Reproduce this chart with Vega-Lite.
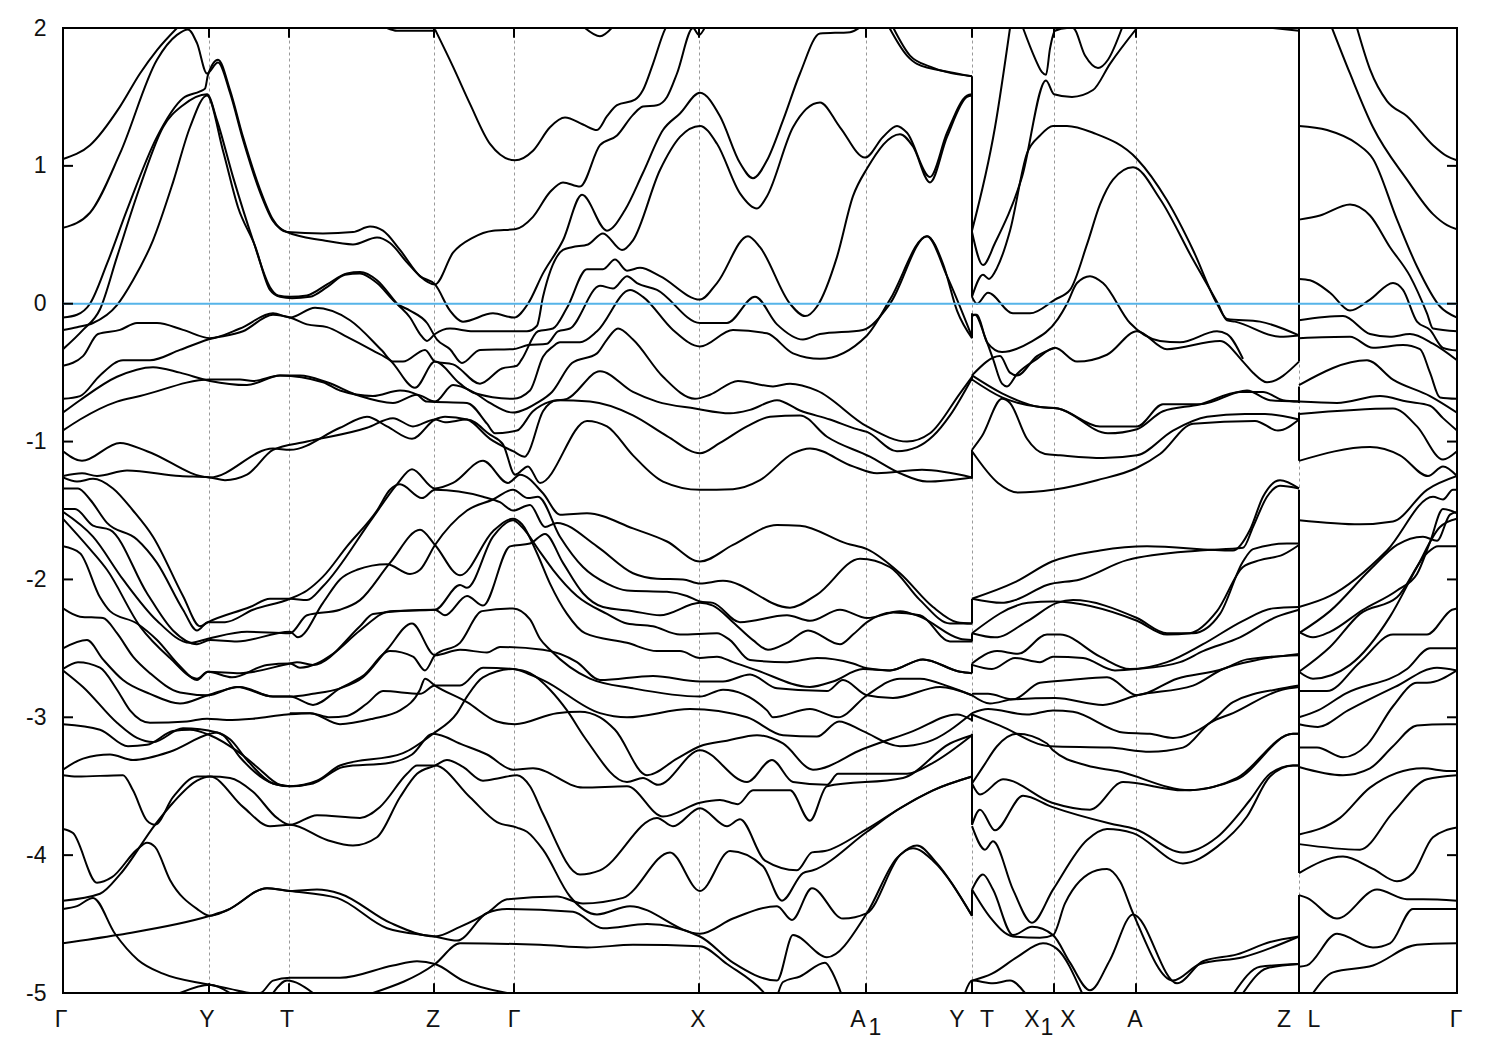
{"$schema":"https://vega.github.io/schema/vega-lite/v6.json","width":1394,"height":965,"autosize":"none","padding":{"left":63,"top":28,"right":43,"bottom":57},"background":"white","config":{"view":{"stroke":"#000","strokeWidth":2}},
"data":{"values":[
{"b":1,"k":63,"e":1.05},{"b":1,"k":90,"e":1.15},{"b":1,"k":120,"e":1.43},{"b":1,"k":140,"e":1.67},{"b":1,"k":157,"e":1.84},{"b":1,"k":177,"e":2.0},
{"b":2,"k":63,"e":0.55},{"b":2,"k":90,"e":0.66},{"b":2,"k":120,"e":1.09},{"b":2,"k":157,"e":1.77},{"b":2,"k":177,"e":1.95},{"b":2,"k":188,"e":1.99},{"b":2,"k":197,"e":1.89},{"b":2,"k":207,"e":1.67},{"b":2,"k":218,"e":1.75},{"b":2,"k":230,"e":1.53},{"b":2,"k":243,"e":1.19},{"b":2,"k":260,"e":0.81},{"b":2,"k":273,"e":0.6},{"b":2,"k":287,"e":0.52},{"b":2,"k":323,"e":0.46},{"b":2,"k":353,"e":0.43},{"b":2,"k":377,"e":0.48},{"b":2,"k":390,"e":0.44},{"b":2,"k":407,"e":0.3},{"b":2,"k":420,"e":0.2},{"b":2,"k":435,"e":0.14},{"b":2,"k":450,"e":-0.05},{"b":2,"k":463,"e":-0.13},{"b":2,"k":493,"e":-0.07},{"b":2,"k":514,"e":-0.1},{"b":2,"k":528,"e":0},{"b":2,"k":543,"e":0.22},{"b":2,"k":563,"e":0.46},{"b":2,"k":582,"e":0.79},{"b":2,"k":607,"e":0.53},{"b":2,"k":625,"e":0.68},{"b":2,"k":643,"e":0.95},{"b":2,"k":663,"e":1.26},{"b":2,"k":680,"e":1.38},{"b":2,"k":700,"e":1.53},{"b":2,"k":720,"e":1.36},{"b":2,"k":740,"e":1.02},{"b":2,"k":753,"e":0.91},{"b":2,"k":767,"e":1.04},{"b":2,"k":783,"e":1.33},{"b":2,"k":800,"e":1.67},{"b":2,"k":820,"e":1.96},{"b":2,"k":850,"e":1.97},{"b":2,"k":863,"e":2.02},
{"b":3,"k":63,"e":-0.1},{"b":3,"k":77,"e":-0.08},{"b":3,"k":90,"e":0},{"b":3,"k":107,"e":0.29},{"b":3,"k":127,"e":0.68},{"b":3,"k":157,"e":1.21},{"b":3,"k":183,"e":1.49},{"b":3,"k":200,"e":1.54},{"b":3,"k":205,"e":1.56},{"b":3,"k":208,"e":1.66},{"b":3,"k":218,"e":1.77},{"b":3,"k":230,"e":1.55},{"b":3,"k":243,"e":1.21},{"b":3,"k":260,"e":0.83},{"b":3,"k":273,"e":0.61},{"b":3,"k":287,"e":0.52},{"b":3,"k":323,"e":0.51},{"b":3,"k":353,"e":0.52},{"b":3,"k":370,"e":0.56},{"b":3,"k":383,"e":0.53},{"b":3,"k":400,"e":0.39},{"b":3,"k":420,"e":0.2},{"b":3,"k":435,"e":0.14},{"b":3,"k":453,"e":0.37},{"b":3,"k":473,"e":0.48},{"b":3,"k":493,"e":0.53},{"b":3,"k":515,"e":0.54},{"b":3,"k":533,"e":0.63},{"b":3,"k":550,"e":0.81},{"b":3,"k":563,"e":0.88},{"b":3,"k":580,"e":0.85},{"b":3,"k":600,"e":1.15},{"b":3,"k":617,"e":1.22},{"b":3,"k":633,"e":1.37},{"b":3,"k":643,"e":1.43},{"b":3,"k":657,"e":1.44},{"b":3,"k":667,"e":1.5},{"b":3,"k":677,"e":1.67},{"b":3,"k":693,"e":2.0},{"b":3,"k":699,"e":1.95},{"b":3,"k":706,"e":2.02},
{"b":4,"k":63,"e":-0.33},{"b":4,"k":83,"e":-0.19},{"b":4,"k":100,"e":-0.04},{"b":4,"k":117,"e":0.34},{"b":4,"k":140,"e":0.85},{"b":4,"k":163,"e":1.28},{"b":4,"k":183,"e":1.44},{"b":4,"k":207,"e":1.52},{"b":4,"k":217,"e":1.33},{"b":4,"k":233,"e":0.92},{"b":4,"k":253,"e":0.46},{"b":4,"k":270,"e":0.12},{"b":4,"k":278,"e":0.06},{"b":4,"k":290,"e":0.05},{"b":4,"k":307,"e":0.06},{"b":4,"k":327,"e":0.14},{"b":4,"k":347,"e":0.22},{"b":4,"k":360,"e":0.23},{"b":4,"k":377,"e":0.17},{"b":4,"k":397,"e":0},{"b":4,"k":410,"e":-0.1},{"b":4,"k":420,"e":-0.22},{"b":4,"k":427,"e":-0.27},{"b":4,"k":435,"e":-0.22},{"b":4,"k":450,"e":-0.18},{"b":4,"k":473,"e":-0.2},{"b":4,"k":527,"e":-0.2},{"b":4,"k":537,"e":-0.16},{"b":4,"k":543,"e":0.05},{"b":4,"k":563,"e":0.39},{"b":4,"k":572,"e":0.41},{"b":4,"k":588,"e":0.43},{"b":4,"k":603,"e":0.51},{"b":4,"k":622,"e":0.39},{"b":4,"k":633,"e":0.46},{"b":4,"k":660,"e":0.97},{"b":4,"k":680,"e":1.21},{"b":4,"k":700,"e":1.29},{"b":4,"k":717,"e":1.16},{"b":4,"k":740,"e":0.8},{"b":4,"k":757,"e":0.69},{"b":4,"k":767,"e":0.78},{"b":4,"k":793,"e":1.28},{"b":4,"k":820,"e":1.46},{"b":4,"k":840,"e":1.28},{"b":4,"k":865,"e":1.06},{"b":4,"k":883,"e":1.21},{"b":4,"k":897,"e":1.29},{"b":4,"k":907,"e":1.24},{"b":4,"k":930,"e":0.92},{"b":4,"k":947,"e":1.24},{"b":4,"k":967,"e":1.51},{"b":4,"k":972,"e":1.52},
{"b":5,"k":63,"e":-0.19},{"b":5,"k":77,"e":-0.17},{"b":5,"k":93,"e":-0.14},{"b":5,"k":117,"e":-0.01},{"b":5,"k":133,"e":0.17},{"b":5,"k":153,"e":0.46},{"b":5,"k":173,"e":0.88},{"b":5,"k":190,"e":1.28},{"b":5,"k":207,"e":1.51},{"b":5,"k":223,"e":1.11},{"b":5,"k":238,"e":0.7},{"b":5,"k":255,"e":0.42},{"b":5,"k":270,"e":0.1},{"b":5,"k":280,"e":0.05},{"b":5,"k":292,"e":0.04},{"b":5,"k":310,"e":0.05},{"b":5,"k":327,"e":0.12},{"b":5,"k":345,"e":0.21},{"b":5,"k":360,"e":0.22},{"b":5,"k":377,"e":0.15},{"b":5,"k":397,"e":0},{"b":5,"k":410,"e":-0.05},{"b":5,"k":427,"e":-0.14},{"b":5,"k":437,"e":-0.26},{"b":5,"k":450,"e":-0.33},{"b":5,"k":462,"e":-0.43},{"b":5,"k":480,"e":-0.335},{"b":5,"k":513,"e":-0.33},{"b":5,"k":528,"e":-0.3},{"b":5,"k":547,"e":-0.29},{"b":5,"k":558,"e":-0.2},{"b":5,"k":570,"e":-0.18},{"b":5,"k":600,"e":0.13},{"b":5,"k":613,"e":0.11},{"b":5,"k":627,"e":0.2},{"b":5,"k":637,"e":0.15},{"b":5,"k":657,"e":0.1},{"b":5,"k":700,"e":-0.14},{"b":5,"k":727,"e":-0.14},{"b":5,"k":755,"e":0.05},{"b":5,"k":777,"e":-0.15},{"b":5,"k":803,"e":-0.26},{"b":5,"k":820,"e":-0.22},{"b":5,"k":863,"e":-0.19},{"b":5,"k":890,"e":0},{"b":5,"k":927,"e":0.49},{"b":5,"k":943,"e":0.29},{"b":5,"k":957,"e":-0.05},{"b":5,"k":972,"e":-0.25},
{"b":6,"k":63,"e":-0.45},{"b":6,"k":83,"e":-0.38},{"b":6,"k":98,"e":-0.22},{"b":6,"k":120,"e":-0.19},{"b":6,"k":137,"e":-0.14},{"b":6,"k":157,"e":-0.14},{"b":6,"k":183,"e":-0.19},{"b":6,"k":210,"e":-0.25},{"b":6,"k":240,"e":-0.18},{"b":6,"k":273,"e":-0.07},{"b":6,"k":290,"e":-0.1},{"b":6,"k":315,"e":-0.03},{"b":6,"k":350,"e":-0.12},{"b":6,"k":382,"e":-0.34},{"b":6,"k":393,"e":-0.42},{"b":6,"k":403,"e":-0.42},{"b":6,"k":425,"e":-0.335},{"b":6,"k":435,"e":-0.42},{"b":6,"k":453,"e":-0.44},{"b":6,"k":480,"e":-0.58},{"b":6,"k":502,"e":-0.47},{"b":6,"k":517,"e":-0.45},{"b":6,"k":522,"e":-0.4},{"b":6,"k":538,"e":-0.2},{"b":6,"k":553,"e":-0.18},{"b":6,"k":567,"e":-0.03},{"b":6,"k":587,"e":0.25},{"b":6,"k":603,"e":0.25},{"b":6,"k":615,"e":0.32},{"b":6,"k":627,"e":0.24},{"b":6,"k":640,"e":0.26},{"b":6,"k":660,"e":0.2},{"b":6,"k":700,"e":0.03},{"b":6,"k":717,"e":0.15},{"b":6,"k":748,"e":0.49},{"b":6,"k":760,"e":0.41},{"b":6,"k":790,"e":0},{"b":6,"k":805,"e":-0.09},{"b":6,"k":817,"e":-0.02},{"b":6,"k":837,"e":0.34},{"b":6,"k":853,"e":0.78},{"b":6,"k":867,"e":0.98},{"b":6,"k":900,"e":1.23},{"b":6,"k":913,"e":1.14},{"b":6,"k":930,"e":0.88},{"b":6,"k":947,"e":1.21},{"b":6,"k":967,"e":1.5},{"b":6,"k":972,"e":1.51},
{"b":7,"k":63,"e":-0.69},{"b":7,"k":80,"e":-0.67},{"b":7,"k":100,"e":-0.52},{"b":7,"k":123,"e":-0.41},{"b":7,"k":150,"e":-0.41},{"b":7,"k":180,"e":-0.335},{"b":7,"k":208,"e":-0.26},{"b":7,"k":243,"e":-0.2},{"b":7,"k":273,"e":-0.08},{"b":7,"k":290,"e":-0.1},{"b":7,"k":307,"e":-0.15},{"b":7,"k":327,"e":-0.17},{"b":7,"k":347,"e":-0.24},{"b":7,"k":373,"e":-0.34},{"b":7,"k":390,"e":-0.41},{"b":7,"k":415,"e":-0.61},{"b":7,"k":435,"e":-0.42},{"b":7,"k":460,"e":-0.58},{"b":7,"k":475,"e":-0.65},{"b":7,"k":513,"e":-0.69},{"b":7,"k":530,"e":-0.63},{"b":7,"k":543,"e":-0.385},{"b":7,"k":553,"e":-0.31},{"b":7,"k":560,"e":-0.28},{"b":7,"k":580,"e":-0.28},{"b":7,"k":597,"e":-0.2},{"b":7,"k":630,"e":0.1},{"b":7,"k":643,"e":0.05},{"b":7,"k":673,"e":-0.19},{"b":7,"k":700,"e":-0.31},{"b":7,"k":733,"e":-0.19},{"b":7,"k":767,"e":-0.215},{"b":7,"k":793,"e":-0.36},{"b":7,"k":820,"e":-0.4},{"b":7,"k":867,"e":-0.23},{"b":7,"k":890,"e":0.03},{"b":7,"k":927,"e":0.49},{"b":7,"k":947,"e":0.2},{"b":7,"k":972,"e":-0.24},
{"b":8,"k":63,"e":-0.79},{"b":8,"k":80,"e":-0.7},{"b":8,"k":117,"e":-0.53},{"b":8,"k":153,"e":-0.46},{"b":8,"k":180,"e":-0.5},{"b":8,"k":210,"e":-0.56},{"b":8,"k":247,"e":-0.59},{"b":8,"k":280,"e":-0.52},{"b":8,"k":300,"e":-0.52},{"b":8,"k":327,"e":-0.57},{"b":8,"k":360,"e":-0.67},{"b":8,"k":393,"e":-0.72},{"b":8,"k":417,"e":-0.66},{"b":8,"k":435,"e":-0.71},{"b":8,"k":453,"e":-0.59},{"b":8,"k":473,"e":-0.64},{"b":8,"k":490,"e":-0.72},{"b":8,"k":513,"e":-0.79},{"b":8,"k":527,"e":-0.76},{"b":8,"k":537,"e":-0.72},{"b":8,"k":552,"e":-0.64},{"b":8,"k":572,"e":-0.43},{"b":8,"k":597,"e":-0.36},{"b":8,"k":607,"e":-0.26},{"b":8,"k":618,"e":-0.18},{"b":8,"k":633,"e":-0.26},{"b":8,"k":663,"e":-0.53},{"b":8,"k":695,"e":-0.69},{"b":8,"k":710,"e":-0.66},{"b":8,"k":738,"e":-0.56},{"b":8,"k":773,"e":-0.6},{"b":8,"k":790,"e":-0.58},{"b":8,"k":817,"e":-0.63},{"b":8,"k":867,"e":-0.89},{"b":8,"k":907,"e":-1.0},{"b":8,"k":930,"e":-0.94},{"b":8,"k":960,"e":-0.65},{"b":8,"k":972,"e":-0.53},
{"b":9,"k":63,"e":-0.92},{"b":9,"k":80,"e":-0.84},{"b":9,"k":117,"e":-0.71},{"b":9,"k":140,"e":-0.67},{"b":9,"k":210,"e":-0.55},{"b":9,"k":240,"e":-0.55},{"b":9,"k":253,"e":-0.56},{"b":9,"k":280,"e":-0.52},{"b":9,"k":323,"e":-0.57},{"b":9,"k":340,"e":-0.63},{"b":9,"k":373,"e":-0.67},{"b":9,"k":400,"e":-0.63},{"b":9,"k":417,"e":-0.66},{"b":9,"k":427,"e":-0.71},{"b":9,"k":467,"e":-0.72},{"b":9,"k":487,"e":-0.87},{"b":9,"k":495,"e":-0.94},{"b":9,"k":517,"e":-0.92},{"b":9,"k":533,"e":-0.78},{"b":9,"k":550,"e":-0.71},{"b":9,"k":567,"e":-0.69},{"b":9,"k":600,"e":-0.49},{"b":9,"k":633,"e":-0.64},{"b":9,"k":657,"e":-0.71},{"b":9,"k":695,"e":-0.76},{"b":9,"k":730,"e":-0.795},{"b":9,"k":750,"e":-0.77},{"b":9,"k":777,"e":-0.7},{"b":9,"k":800,"e":-0.775},{"b":9,"k":830,"e":-0.84},{"b":9,"k":857,"e":-0.91},{"b":9,"k":867,"e":-0.93},{"b":9,"k":897,"e":-1.07},{"b":9,"k":917,"e":-1.04},{"b":9,"k":933,"e":-0.96},{"b":9,"k":950,"e":-0.81},{"b":9,"k":972,"e":-0.54},
{"b":10,"k":63,"e":-1.07},{"b":10,"k":82,"e":-1.14},{"b":10,"k":120,"e":-1.01},{"b":10,"k":147,"e":-1.07},{"b":10,"k":210,"e":-1.26},{"b":10,"k":273,"e":-1.05},{"b":10,"k":290,"e":-1.06},{"b":10,"k":340,"e":-0.9},{"b":10,"k":367,"e":-0.82},{"b":10,"k":387,"e":-0.89},{"b":10,"k":412,"e":-0.98},{"b":10,"k":435,"e":-0.84},{"b":10,"k":445,"e":-0.82},{"b":10,"k":467,"e":-0.84},{"b":10,"k":490,"e":-0.98},{"b":10,"k":513,"e":-1.07},{"b":10,"k":525,"e":-1.11},{"b":10,"k":528,"e":-1.085},{"b":10,"k":543,"e":-0.78},{"b":10,"k":557,"e":-0.7},{"b":10,"k":590,"e":-0.71},{"b":10,"k":633,"e":-0.81},{"b":10,"k":667,"e":-0.96},{"b":10,"k":700,"e":-1.085},{"b":10,"k":720,"e":-1.01},{"b":10,"k":747,"e":-0.89},{"b":10,"k":770,"e":-0.82},{"b":10,"k":800,"e":-0.81},{"b":10,"k":827,"e":-0.965},{"b":10,"k":870,"e":-1.11},{"b":10,"k":900,"e":-1.23},{"b":10,"k":927,"e":-1.29},{"b":10,"k":972,"e":-1.26},
{"b":11,"k":63,"e":-1.25},{"b":11,"k":82,"e":-1.23},{"b":11,"k":97,"e":-1.25},{"b":11,"k":127,"e":-1.21},{"b":11,"k":180,"e":-1.25},{"b":11,"k":210,"e":-1.26},{"b":11,"k":225,"e":-1.28},{"b":11,"k":247,"e":-1.24},{"b":11,"k":273,"e":-1.06},{"b":11,"k":307,"e":-1.0},{"b":11,"k":367,"e":-0.9},{"b":11,"k":393,"e":-0.83},{"b":11,"k":413,"e":-0.89},{"b":11,"k":435,"e":-0.84},{"b":11,"k":445,"e":-0.86},{"b":11,"k":467,"e":-0.84},{"b":11,"k":490,"e":-0.95},{"b":11,"k":503,"e":-1.02},{"b":11,"k":515,"e":-1.24},{"b":11,"k":528,"e":-1.18},{"b":11,"k":540,"e":-1.3},{"b":11,"k":587,"e":-0.85},{"b":11,"k":607,"e":-0.89},{"b":11,"k":633,"e":-1.1},{"b":11,"k":663,"e":-1.29},{"b":11,"k":700,"e":-1.35},{"b":11,"k":733,"e":-1.345},{"b":11,"k":760,"e":-1.28},{"b":11,"k":793,"e":-1.085},{"b":11,"k":810,"e":-1.05},{"b":11,"k":853,"e":-1.18},{"b":11,"k":877,"e":-1.23},{"b":11,"k":922,"e":-1.205},{"b":11,"k":972,"e":-1.26},
{"b":12,"k":63,"e":-1.26},{"b":12,"k":77,"e":-1.29},{"b":12,"k":93,"e":-1.27},{"b":12,"k":113,"e":-1.34},{"b":12,"k":133,"e":-1.5},{"b":12,"k":153,"e":-1.69},{"b":12,"k":183,"e":-2.12},{"b":12,"k":200,"e":-2.34},{"b":12,"k":208,"e":-2.31},{"b":12,"k":250,"e":-2.2},{"b":12,"k":270,"e":-2.14},{"b":12,"k":290,"e":-2.14},{"b":12,"k":307,"e":-2.15},{"b":12,"k":323,"e":-2.05},{"b":12,"k":373,"e":-1.55},{"b":12,"k":397,"e":-1.31},{"b":12,"k":412,"e":-1.2},{"b":12,"k":435,"e":-1.34},{"b":12,"k":453,"e":-1.3},{"b":12,"k":483,"e":-1.14},{"b":12,"k":508,"e":-1.3},{"b":12,"k":520,"e":-1.24},{"b":12,"k":543,"e":-1.375},{"b":12,"k":560,"e":-1.53},{"b":12,"k":587,"e":-1.52},{"b":12,"k":633,"e":-1.63},{"b":12,"k":667,"e":-1.725},{"b":12,"k":700,"e":-1.87},{"b":12,"k":733,"e":-1.75},{"b":12,"k":777,"e":-1.605},{"b":12,"k":800,"e":-1.61},{"b":12,"k":847,"e":-1.74},{"b":12,"k":867,"e":-1.78},{"b":12,"k":900,"e":-1.955},{"b":12,"k":933,"e":-2.2},{"b":12,"k":957,"e":-2.31},{"b":12,"k":972,"e":-2.32},
{"b":13,"k":63,"e":-1.34},{"b":13,"k":78,"e":-1.34},{"b":13,"k":90,"e":-1.42},{"b":13,"k":107,"e":-1.59},{"b":13,"k":137,"e":-1.71},{"b":13,"k":157,"e":-1.88},{"b":13,"k":183,"e":-2.22},{"b":13,"k":197,"e":-2.37},{"b":13,"k":208,"e":-2.31},{"b":13,"k":225,"e":-2.31},{"b":13,"k":253,"e":-2.22},{"b":13,"k":290,"e":-2.14},{"b":13,"k":307,"e":-2.08},{"b":13,"k":323,"e":-1.98},{"b":13,"k":347,"e":-1.76},{"b":13,"k":377,"e":-1.5},{"b":13,"k":390,"e":-1.35},{"b":13,"k":400,"e":-1.31},{"b":13,"k":422,"e":-1.41},{"b":13,"k":435,"e":-1.35},{"b":13,"k":483,"e":-1.4},{"b":13,"k":500,"e":-1.44},{"b":13,"k":513,"e":-1.5},{"b":13,"k":530,"e":-1.46},{"b":13,"k":545,"e":-1.62},{"b":13,"k":557,"e":-1.59},{"b":13,"k":597,"e":-1.76},{"b":13,"k":633,"e":-1.955},{"b":13,"k":657,"e":-1.995},{"b":13,"k":683,"e":-2.0},{"b":13,"k":700,"e":-2.03},{"b":13,"k":723,"e":-2.01},{"b":13,"k":790,"e":-2.205},{"b":13,"k":817,"e":-2.11},{"b":13,"k":860,"e":-1.85},{"b":13,"k":890,"e":-1.91},{"b":13,"k":920,"e":-2.15},{"b":13,"k":950,"e":-2.32},{"b":13,"k":972,"e":-2.32},
{"b":14,"k":63,"e":-1.49},{"b":14,"k":75,"e":-1.49},{"b":14,"k":93,"e":-1.61},{"b":14,"k":110,"e":-1.64},{"b":14,"k":147,"e":-2.1},{"b":14,"k":173,"e":-2.37},{"b":14,"k":197,"e":-2.47},{"b":14,"k":210,"e":-2.44},{"b":14,"k":237,"e":-2.45},{"b":14,"k":290,"e":-2.38},{"b":14,"k":298,"e":-2.42},{"b":14,"k":323,"e":-2.17},{"b":14,"k":340,"e":-2.0},{"b":14,"k":357,"e":-1.93},{"b":14,"k":387,"e":-1.89},{"b":14,"k":410,"e":-1.96},{"b":14,"k":420,"e":-1.93},{"b":14,"k":435,"e":-1.75},{"b":14,"k":467,"e":-1.5},{"b":14,"k":493,"e":-1.42},{"b":14,"k":513,"e":-1.35},{"b":14,"k":528,"e":-1.41},{"b":14,"k":538,"e":-1.4},{"b":14,"k":560,"e":-1.69},{"b":14,"k":583,"e":-1.91},{"b":14,"k":607,"e":-2.03},{"b":14,"k":627,"e":-2.08},{"b":14,"k":667,"e":-2.09},{"b":14,"k":687,"e":-2.12},{"b":14,"k":700,"e":-2.16},{"b":14,"k":713,"e":-2.17},{"b":14,"k":740,"e":-2.31},{"b":14,"k":787,"e":-2.26},{"b":14,"k":810,"e":-2.3},{"b":14,"k":840,"e":-2.22},{"b":14,"k":867,"e":-2.28},{"b":14,"k":900,"e":-2.23},{"b":14,"k":920,"e":-2.27},{"b":14,"k":960,"e":-2.43},{"b":14,"k":972,"e":-2.44},
{"b":15,"k":63,"e":-1.51},{"b":15,"k":93,"e":-1.69},{"b":15,"k":123,"e":-2.0},{"b":15,"k":157,"e":-2.3},{"b":15,"k":190,"e":-2.46},{"b":15,"k":208,"e":-2.43},{"b":15,"k":247,"e":-2.38},{"b":15,"k":290,"e":-2.39},{"b":15,"k":307,"e":-2.26},{"b":15,"k":340,"e":-2.22},{"b":15,"k":360,"e":-2.15},{"b":15,"k":390,"e":-1.88},{"b":15,"k":420,"e":-1.64},{"b":15,"k":435,"e":-1.75},{"b":15,"k":460,"e":-1.97},{"b":15,"k":493,"e":-1.65},{"b":15,"k":513,"e":-1.56},{"b":15,"k":522,"e":-1.6},{"b":15,"k":537,"e":-1.81},{"b":15,"k":550,"e":-2.03},{"b":15,"k":567,"e":-2.25},{"b":15,"k":585,"e":-2.39},{"b":15,"k":627,"e":-2.46},{"b":15,"k":657,"e":-2.52},{"b":15,"k":680,"e":-2.52},{"b":15,"k":700,"e":-2.57},{"b":15,"k":717,"e":-2.56},{"b":15,"k":733,"e":-2.6},{"b":15,"k":757,"e":-2.66},{"b":15,"k":810,"e":-2.78},{"b":15,"k":833,"e":-2.74},{"b":15,"k":863,"e":-2.65},{"b":15,"k":890,"e":-2.66},{"b":15,"k":923,"e":-2.58},{"b":15,"k":960,"e":-2.67},{"b":15,"k":972,"e":-2.68},
{"b":16,"k":63,"e":-1.56},{"b":16,"k":90,"e":-1.78},{"b":16,"k":107,"e":-1.93},{"b":16,"k":140,"e":-2.34},{"b":16,"k":170,"e":-2.57},{"b":16,"k":197,"e":-2.72},{"b":16,"k":208,"e":-2.67},{"b":16,"k":232,"e":-2.71},{"b":16,"k":267,"e":-2.62},{"b":16,"k":290,"e":-2.61},{"b":16,"k":300,"e":-2.64},{"b":16,"k":317,"e":-2.61},{"b":16,"k":333,"e":-2.54},{"b":16,"k":360,"e":-2.37},{"b":16,"k":390,"e":-2.23},{"b":16,"k":435,"e":-2.22},{"b":16,"k":460,"e":-2.04},{"b":16,"k":467,"e":-2.06},{"b":16,"k":493,"e":-1.69},{"b":16,"k":513,"e":-1.57},{"b":16,"k":522,"e":-1.62},{"b":16,"k":540,"e":-1.8},{"b":16,"k":553,"e":-1.93},{"b":16,"k":577,"e":-2.12},{"b":16,"k":607,"e":-2.25},{"b":16,"k":627,"e":-2.32},{"b":16,"k":653,"e":-2.34},{"b":16,"k":680,"e":-2.4},{"b":16,"k":717,"e":-2.39},{"b":16,"k":730,"e":-2.44},{"b":16,"k":750,"e":-2.585},{"b":16,"k":787,"e":-2.6},{"b":16,"k":817,"e":-2.57},{"b":16,"k":853,"e":-2.61},{"b":16,"k":867,"e":-2.645},{"b":16,"k":890,"e":-2.66},{"b":16,"k":923,"e":-2.58},{"b":16,"k":960,"e":-2.67},{"b":16,"k":972,"e":-2.68},
{"b":17,"k":63,"e":-1.76},{"b":17,"k":80,"e":-1.81},{"b":17,"k":100,"e":-2.13},{"b":17,"k":110,"e":-2.23},{"b":17,"k":137,"e":-2.32},{"b":17,"k":157,"e":-2.44},{"b":17,"k":180,"e":-2.63},{"b":17,"k":197,"e":-2.73},{"b":17,"k":208,"e":-2.67},{"b":17,"k":240,"e":-2.68},{"b":17,"k":290,"e":-2.61},{"b":17,"k":297,"e":-2.6},{"b":17,"k":313,"e":-2.62},{"b":17,"k":360,"e":-2.34},{"b":17,"k":373,"e":-2.25},{"b":17,"k":435,"e":-2.22},{"b":17,"k":445,"e":-2.26},{"b":17,"k":467,"e":-2.12},{"b":17,"k":483,"e":-2.19},{"b":17,"k":510,"e":-1.76},{"b":17,"k":530,"e":-1.74},{"b":17,"k":545,"e":-1.67},{"b":17,"k":563,"e":-1.88},{"b":17,"k":583,"e":-2.1},{"b":17,"k":603,"e":-2.2},{"b":17,"k":633,"e":-2.23},{"b":17,"k":660,"e":-2.26},{"b":17,"k":700,"e":-2.17},{"b":17,"k":713,"e":-2.19},{"b":17,"k":733,"e":-2.31},{"b":17,"k":753,"e":-2.44},{"b":17,"k":768,"e":-2.51},{"b":17,"k":787,"e":-2.46},{"b":17,"k":808,"e":-2.37},{"b":17,"k":840,"e":-2.47},{"b":17,"k":853,"e":-2.4},{"b":17,"k":867,"e":-2.31},{"b":17,"k":893,"e":-2.24},{"b":17,"k":920,"e":-2.26},{"b":17,"k":950,"e":-2.45},{"b":17,"k":972,"e":-2.45},
{"b":18,"k":63,"e":-2.21},{"b":18,"k":80,"e":-2.27},{"b":18,"k":103,"e":-2.28},{"b":18,"k":117,"e":-2.39},{"b":18,"k":133,"e":-2.56},{"b":18,"k":150,"e":-2.68},{"b":18,"k":180,"e":-2.82},{"b":18,"k":208,"e":-2.84},{"b":18,"k":237,"e":-2.78},{"b":18,"k":273,"e":-2.85},{"b":18,"k":290,"e":-2.85},{"b":18,"k":313,"e":-2.83},{"b":18,"k":340,"e":-2.79},{"b":18,"k":363,"e":-2.71},{"b":18,"k":387,"e":-2.51},{"b":18,"k":412,"e":-2.32},{"b":18,"k":435,"e":-2.55},{"b":18,"k":460,"e":-2.51},{"b":18,"k":487,"e":-2.53},{"b":18,"k":500,"e":-2.49},{"b":18,"k":543,"e":-2.51},{"b":18,"k":577,"e":-2.6},{"b":18,"k":600,"e":-2.73},{"b":18,"k":653,"e":-2.7},{"b":18,"k":700,"e":-2.74},{"b":18,"k":723,"e":-2.74},{"b":18,"k":750,"e":-2.69},{"b":18,"k":777,"e":-2.79},{"b":18,"k":827,"e":-2.81},{"b":18,"k":843,"e":-2.73},{"b":18,"k":867,"e":-2.84},{"b":18,"k":893,"e":-2.86},{"b":18,"k":940,"e":-2.78},{"b":18,"k":972,"e":-2.84},
{"b":19,"k":63,"e":-2.5},{"b":19,"k":87,"e":-2.44},{"b":19,"k":103,"e":-2.58},{"b":19,"k":123,"e":-2.73},{"b":19,"k":150,"e":-2.83},{"b":19,"k":180,"e":-2.9},{"b":19,"k":208,"e":-2.84},{"b":19,"k":240,"e":-2.78},{"b":19,"k":273,"e":-2.85},{"b":19,"k":290,"e":-2.85},{"b":19,"k":313,"e":-2.91},{"b":19,"k":340,"e":-2.79},{"b":19,"k":363,"e":-2.7},{"b":19,"k":390,"e":-2.52},{"b":19,"k":413,"e":-2.56},{"b":19,"k":425,"e":-2.66},{"b":19,"k":435,"e":-2.55},{"b":19,"k":460,"e":-2.46},{"b":19,"k":482,"e":-2.23},{"b":19,"k":513,"e":-2.21},{"b":19,"k":530,"e":-2.29},{"b":19,"k":540,"e":-2.43},{"b":19,"k":550,"e":-2.51},{"b":19,"k":590,"e":-2.72},{"b":19,"k":633,"e":-2.79},{"b":19,"k":700,"e":-2.85},{"b":19,"k":723,"e":-2.8},{"b":19,"k":767,"e":-2.95},{"b":19,"k":773,"e":-3.0},{"b":19,"k":810,"e":-2.94},{"b":19,"k":838,"e":-3.0},{"b":19,"k":867,"e":-2.84},{"b":19,"k":900,"e":-2.72},{"b":19,"k":920,"e":-2.72},{"b":19,"k":950,"e":-2.78},{"b":19,"k":972,"e":-2.84},
{"b":20,"k":63,"e":-2.65},{"b":20,"k":78,"e":-2.6},{"b":20,"k":100,"e":-2.64},{"b":20,"k":117,"e":-2.8},{"b":20,"k":130,"e":-2.95},{"b":20,"k":150,"e":-3.04},{"b":20,"k":187,"e":-3.03},{"b":20,"k":207,"e":-3.01},{"b":20,"k":227,"e":-3.02},{"b":20,"k":253,"e":-3.01},{"b":20,"k":287,"e":-2.98},{"b":20,"k":310,"e":-2.97},{"b":20,"k":330,"e":-3.0},{"b":20,"k":347,"e":-2.99},{"b":20,"k":367,"e":-2.9},{"b":20,"k":383,"e":-2.81},{"b":20,"k":420,"e":-2.83},{"b":20,"k":435,"e":-2.77},{"b":20,"k":460,"e":-2.77},{"b":20,"k":483,"e":-2.64},{"b":20,"k":513,"e":-2.65},{"b":20,"k":530,"e":-2.68},{"b":20,"k":550,"e":-2.8},{"b":20,"k":567,"e":-2.95},{"b":20,"k":585,"e":-3.15},{"b":20,"k":627,"e":-3.47},{"b":20,"k":643,"e":-3.44},{"b":20,"k":658,"e":-3.49},{"b":20,"k":700,"e":-3.24},{"b":20,"k":747,"e":-3.47},{"b":20,"k":772,"e":-3.31},{"b":20,"k":793,"e":-3.47},{"b":20,"k":827,"e":-3.49},{"b":20,"k":838,"e":-3.41},{"b":20,"k":907,"e":-3.41},{"b":20,"k":933,"e":-3.33},{"b":20,"k":972,"e":-3.13},
{"b":21,"k":63,"e":-2.66},{"b":21,"k":83,"e":-2.78},{"b":21,"k":117,"e":-3.04},{"b":21,"k":137,"e":-3.15},{"b":21,"k":153,"e":-3.18},{"b":21,"k":183,"e":-3.08},{"b":21,"k":217,"e":-3.11},{"b":21,"k":230,"e":-3.16},{"b":21,"k":247,"e":-3.31},{"b":21,"k":273,"e":-3.48},{"b":21,"k":290,"e":-3.5},{"b":21,"k":317,"e":-3.46},{"b":21,"k":340,"e":-3.35},{"b":21,"k":403,"e":-3.26},{"b":21,"k":433,"e":-3.12},{"b":21,"k":457,"e":-2.97},{"b":21,"k":467,"e":-2.85},{"b":21,"k":483,"e":-2.71},{"b":21,"k":513,"e":-2.65},{"b":21,"k":530,"e":-2.69},{"b":21,"k":543,"e":-2.73},{"b":21,"k":600,"e":-2.97},{"b":21,"k":627,"e":-3.0},{"b":21,"k":690,"e":-2.94},{"b":21,"k":747,"e":-3.0},{"b":21,"k":783,"e":-3.13},{"b":21,"k":817,"e":-3.14},{"b":21,"k":839,"e":-3.03},{"b":21,"k":863,"e":-3.1},{"b":21,"k":900,"e":-3.21},{"b":21,"k":927,"e":-3.18},{"b":21,"k":972,"e":-2.97},
{"b":22,"k":63,"e":-3.05},{"b":22,"k":100,"e":-3.09},{"b":22,"k":128,"e":-3.21},{"b":22,"k":147,"e":-3.2},{"b":22,"k":173,"e":-3.1},{"b":22,"k":190,"e":-3.09},{"b":22,"k":210,"e":-3.13},{"b":22,"k":240,"e":-3.26},{"b":22,"k":257,"e":-3.36},{"b":22,"k":280,"e":-3.49},{"b":22,"k":290,"e":-3.5},{"b":22,"k":313,"e":-3.48},{"b":22,"k":343,"e":-3.36},{"b":22,"k":390,"e":-3.33},{"b":22,"k":412,"e":-3.27},{"b":22,"k":433,"e":-3.12},{"b":22,"k":463,"e":-3.2},{"b":22,"k":487,"e":-3.27},{"b":22,"k":513,"e":-3.38},{"b":22,"k":533,"e":-3.37},{"b":22,"k":583,"e":-3.51},{"b":22,"k":627,"e":-3.5},{"b":22,"k":663,"e":-3.72},{"b":22,"k":700,"e":-3.62},{"b":22,"k":720,"e":-3.6},{"b":22,"k":738,"e":-3.63},{"b":22,"k":753,"e":-3.53},{"b":22,"k":790,"e":-3.53},{"b":22,"k":810,"e":-3.75},{"b":22,"k":827,"e":-3.5},{"b":22,"k":903,"e":-3.44},{"b":22,"k":950,"e":-3.19},{"b":22,"k":972,"e":-3.13},
{"b":23,"k":290,"e":-2.97},{"b":23,"k":310,"e":-2.97},{"b":23,"k":340,"e":-3.05},{"b":23,"k":373,"e":-3.01},{"b":23,"k":400,"e":-2.95},{"b":23,"k":420,"e":-2.8},{"b":23,"k":425,"e":-2.72},{"b":23,"k":435,"e":-2.77},{"b":23,"k":467,"e":-2.89},{"b":23,"k":497,"e":-3.03},{"b":23,"k":515,"e":-3.05},{"b":23,"k":557,"e":-2.97},{"b":23,"k":580,"e":-2.96},{"b":23,"k":600,"e":-3.0},{"b":23,"k":615,"e":-3.09},{"b":23,"k":647,"e":-3.42},{"b":23,"k":677,"e":-3.3},{"b":23,"k":700,"e":-3.21},{"b":23,"k":727,"e":-3.17},{"b":23,"k":757,"e":-3.13},{"b":23,"k":783,"e":-3.19},{"b":23,"k":813,"e":-3.38},{"b":23,"k":863,"e":-3.23},{"b":23,"k":913,"e":-3.1},{"b":23,"k":957,"e":-2.98},{"b":23,"k":972,"e":-3.02},
{"b":24,"k":63,"e":-3.38},{"b":24,"k":83,"e":-3.3},{"b":24,"k":110,"e":-3.27},{"b":24,"k":133,"e":-3.31},{"b":24,"k":170,"e":-3.25},{"b":24,"k":210,"e":-3.12},{"b":24,"k":217,"e":-3.11},{"b":24,"k":223,"e":-3.13},{"b":24,"k":240,"e":-3.29},{"b":24,"k":273,"e":-3.48},{"b":24,"k":290,"e":-3.5},
{"b":25,"k":63,"e":-3.42},{"b":25,"k":77,"e":-3.43},{"b":25,"k":123,"e":-3.42},{"b":25,"k":133,"e":-3.53},{"b":25,"k":147,"e":-3.75},{"b":25,"k":155,"e":-3.78},{"b":25,"k":173,"e":-3.58},{"b":25,"k":197,"e":-3.43},{"b":25,"k":210,"e":-3.43},{"b":25,"k":230,"e":-3.44},{"b":25,"k":253,"e":-3.54},{"b":25,"k":277,"e":-3.73},{"b":25,"k":290,"e":-3.78},{"b":25,"k":317,"e":-3.71},{"b":25,"k":360,"e":-3.73},{"b":25,"k":380,"e":-3.65},{"b":25,"k":407,"e":-3.41},{"b":25,"k":417,"e":-3.35},{"b":25,"k":435,"e":-3.35},{"b":25,"k":470,"e":-3.58},{"b":25,"k":497,"e":-3.76},{"b":25,"k":517,"e":-3.8},{"b":25,"k":527,"e":-3.83},{"b":25,"k":543,"e":-3.96},{"b":25,"k":570,"e":-4.3},{"b":25,"k":597,"e":-4.43},{"b":25,"k":630,"e":-4.37},{"b":25,"k":700,"e":-4.57},{"b":25,"k":733,"e":-4.46},{"b":25,"k":777,"e":-4.37},{"b":25,"k":792,"e":-4.47},{"b":25,"k":812,"e":-4.24},{"b":25,"k":843,"e":-4.46},{"b":25,"k":867,"e":-4.42},{"b":25,"k":900,"e":-4.0},{"b":25,"k":917,"e":-3.93},{"b":25,"k":937,"e":-4.06},{"b":25,"k":972,"e":-4.44},
{"b":26,"k":63,"e":-4.33},{"b":26,"k":100,"e":-4.28},{"b":26,"k":120,"e":-4.14},{"b":26,"k":155,"e":-3.78},{"b":26,"k":173,"e":-3.62},{"b":26,"k":197,"e":-3.46},{"b":26,"k":210,"e":-3.43},{"b":26,"k":243,"e":-3.65},{"b":26,"k":270,"e":-3.79},{"b":26,"k":290,"e":-3.78},{"b":26,"k":327,"e":-3.89},{"b":26,"k":353,"e":-3.93},{"b":26,"k":377,"e":-3.87},{"b":26,"k":400,"e":-3.58},{"b":26,"k":417,"e":-3.41},{"b":26,"k":435,"e":-3.35},{"b":26,"k":447,"e":-3.31},{"b":26,"k":463,"e":-3.36},{"b":26,"k":483,"e":-3.46},{"b":26,"k":500,"e":-3.44},{"b":26,"k":517,"e":-3.42},{"b":26,"k":530,"e":-3.5},{"b":26,"k":543,"e":-3.7},{"b":26,"k":580,"e":-4.14},{"b":26,"k":600,"e":-4.11},{"b":26,"k":657,"e":-3.73},{"b":26,"k":673,"e":-3.79},{"b":26,"k":700,"e":-3.66},{"b":26,"k":727,"e":-3.79},{"b":26,"k":740,"e":-3.74},{"b":26,"k":765,"e":-4.04},{"b":26,"k":797,"e":-4.11},{"b":26,"k":812,"e":-3.98},{"b":26,"k":825,"e":-3.97},{"b":26,"k":867,"e":-3.81},{"b":26,"k":900,"e":-3.66},{"b":26,"k":933,"e":-3.53},{"b":26,"k":972,"e":-3.43},
{"b":27,"k":63,"e":-3.81},{"b":27,"k":73,"e":-3.84},{"b":27,"k":97,"e":-4.2},{"b":27,"k":112,"e":-4.16},{"b":27,"k":137,"e":-3.96},{"b":27,"k":147,"e":-3.91},{"b":27,"k":155,"e":-3.94},{"b":27,"k":170,"e":-4.18},{"b":27,"k":197,"e":-4.39},{"b":27,"k":210,"e":-4.44},{"b":27,"k":227,"e":-4.4},{"b":27,"k":267,"e":-4.24},{"b":27,"k":290,"e":-4.26},{"b":27,"k":317,"e":-4.25},{"b":27,"k":340,"e":-4.28},{"b":27,"k":390,"e":-4.49},{"b":27,"k":435,"e":-4.59},{"b":27,"k":460,"e":-4.52},{"b":27,"k":487,"e":-4.42},{"b":27,"k":507,"e":-4.32},{"b":27,"k":557,"e":-4.3},{"b":27,"k":583,"e":-4.35},{"b":27,"k":623,"e":-4.31},{"b":27,"k":670,"e":-3.98},{"b":27,"k":700,"e":-4.26},{"b":27,"k":730,"e":-3.97},{"b":27,"k":763,"e":-4.08},{"b":27,"k":782,"e":-4.33},{"b":27,"k":803,"e":-4.13},{"b":27,"k":813,"e":-4.11},{"b":27,"k":867,"e":-3.83},{"b":27,"k":900,"e":-3.66},{"b":27,"k":933,"e":-3.53},{"b":27,"k":972,"e":-3.43},
{"b":28,"k":63,"e":-4.64},{"b":28,"k":117,"e":-4.58},{"b":28,"k":210,"e":-4.44},{"b":28,"k":227,"e":-4.4},{"b":28,"k":267,"e":-4.24},{"b":28,"k":290,"e":-4.26},{"b":28,"k":337,"e":-4.31},{"b":28,"k":387,"e":-4.53},{"b":28,"k":435,"e":-4.59},{"b":28,"k":457,"e":-4.62},{"b":28,"k":487,"e":-4.42},{"b":28,"k":507,"e":-4.39},{"b":28,"k":573,"e":-4.41},{"b":28,"k":603,"e":-4.53},{"b":28,"k":647,"e":-4.5},{"b":28,"k":700,"e":-4.59},{"b":28,"k":733,"e":-4.78},{"b":28,"k":777,"e":-4.91},{"b":28,"k":793,"e":-4.58},{"b":28,"k":827,"e":-4.74},{"b":28,"k":867,"e":-4.42},{"b":28,"k":897,"e":-4.02},{"b":28,"k":913,"e":-3.95},{"b":28,"k":933,"e":-4.04},{"b":28,"k":972,"e":-4.44},
{"b":29,"k":63,"e":-4.39},{"b":29,"k":77,"e":-4.37},{"b":29,"k":93,"e":-4.31},{"b":29,"k":115,"e":-4.57},{"b":29,"k":138,"e":-4.76},{"b":29,"k":163,"e":-4.86},{"b":29,"k":210,"e":-4.94},{"b":29,"k":230,"e":-4.97},{"b":29,"k":253,"e":-5.0},{"b":29,"k":260,"e":-5.0},{"b":29,"k":273,"e":-4.91},{"b":29,"k":290,"e":-4.89},{"b":29,"k":340,"e":-4.89},{"b":29,"k":393,"e":-4.8},{"b":29,"k":417,"e":-4.77},{"b":29,"k":435,"e":-4.79},{"b":29,"k":463,"e":-4.91},{"b":29,"k":507,"e":-5.0},
{"b":30,"k":273,"e":-5.0},{"b":30,"k":287,"e":-4.91},{"b":30,"k":313,"e":-5.0},
{"b":31,"k":180,"e":-5.0},{"b":31,"k":210,"e":-4.94},{"b":31,"k":230,"e":-5.0},
{"b":32,"k":373,"e":-5.0},{"b":32,"k":435,"e":-4.79},{"b":32,"k":460,"e":-4.64},{"b":32,"k":540,"e":-4.65},{"b":32,"k":587,"e":-4.67},{"b":32,"k":633,"e":-4.65},{"b":32,"k":700,"e":-4.66},{"b":32,"k":727,"e":-4.79},{"b":32,"k":763,"e":-4.99},{"b":32,"k":770,"e":-5.05},
{"b":33,"k":777,"e":-5.03},{"b":33,"k":783,"e":-4.92},{"b":33,"k":800,"e":-4.88},{"b":33,"k":825,"e":-4.78},{"b":33,"k":833,"e":-4.86},{"b":33,"k":842,"e":-5.02},
{"b":40,"k":435,"e":1.99},{"b":40,"k":453,"e":1.72},{"b":40,"k":470,"e":1.45},{"b":40,"k":490,"e":1.16},{"b":40,"k":515,"e":1.04},{"b":40,"k":533,"e":1.11},{"b":40,"k":550,"e":1.28},{"b":40,"k":565,"e":1.35},{"b":40,"k":583,"e":1.3},{"b":40,"k":597,"e":1.26},{"b":40,"k":607,"e":1.36},{"b":40,"k":617,"e":1.44},{"b":40,"k":635,"e":1.48},{"b":40,"k":643,"e":1.55},{"b":40,"k":653,"e":1.74},{"b":40,"k":665,"e":1.99},{"b":40,"k":668,"e":2.03},
{"b":41,"k":387,"e":2.0},{"b":41,"k":397,"e":1.98},{"b":41,"k":435,"e":1.98},
{"b":42,"k":585,"e":2.0},{"b":42,"k":600,"e":1.94},{"b":42,"k":613,"e":2.01},
{"b":43,"k":892,"e":2.02},{"b":43,"k":910,"e":1.8},{"b":43,"k":930,"e":1.72},{"b":43,"k":972,"e":1.65},
{"b":44,"k":888,"e":2.02},{"b":44,"k":907,"e":1.8},{"b":44,"k":917,"e":1.74},{"b":44,"k":950,"e":1.68},{"b":44,"k":972,"e":1.65},
{"b":50,"k":972,"e":0.53},{"b":50,"k":995,"e":1.28},{"b":50,"k":1010,"e":2.0},
{"b":51,"k":1023,"e":2.0},{"b":51,"k":1035,"e":1.78},{"b":51,"k":1042,"e":1.68},{"b":51,"k":1046,"e":1.66},{"b":51,"k":1050,"e":1.85},{"b":51,"k":1055,"e":1.98},{"b":51,"k":1067,"e":2.0},{"b":51,"k":1073,"e":2.0},{"b":51,"k":1085,"e":1.8},{"b":51,"k":1098,"e":1.71},{"b":51,"k":1108,"e":1.77},{"b":51,"k":1122,"e":2.0},
{"b":52,"k":972,"e":0.52},{"b":52,"k":983,"e":0.28},{"b":52,"k":995,"e":0.44},{"b":52,"k":1022,"e":0.92},{"b":52,"k":1046,"e":1.62},{"b":52,"k":1054,"e":1.52},{"b":52,"k":1072,"e":1.5},{"b":52,"k":1093,"e":1.55},{"b":52,"k":1110,"e":1.74},{"b":52,"k":1137,"e":2.0},
{"b":53,"k":972,"e":0.05},{"b":53,"k":983,"e":0.21},{"b":53,"k":989,"e":0.18},{"b":53,"k":997,"e":0.26},{"b":53,"k":1010,"e":0.53},{"b":53,"k":1027,"e":1.09},{"b":53,"k":1040,"e":1.22},{"b":53,"k":1053,"e":1.29},{"b":53,"k":1067,"e":1.29},{"b":53,"k":1093,"e":1.24},{"b":53,"k":1137,"e":1.05},{"b":53,"k":1167,"e":0.75},{"b":53,"k":1193,"e":0.39},{"b":53,"k":1217,"e":0},{"b":53,"k":1227,"e":-0.11},{"b":53,"k":1260,"e":-0.13},{"b":53,"k":1299,"e":-0.23},
{"b":54,"k":972,"e":0.05},{"b":54,"k":977,"e":0},{"b":54,"k":988,"e":0.08},{"b":54,"k":1013,"e":-0.07},{"b":54,"k":1030,"e":-0.07},{"b":54,"k":1055,"e":0.03},{"b":54,"k":1070,"e":0.1},{"b":54,"k":1087,"e":0.43},{"b":54,"k":1100,"e":0.72},{"b":54,"k":1113,"e":0.9},{"b":54,"k":1133,"e":0.99},{"b":54,"k":1160,"e":0.76},{"b":54,"k":1193,"e":0.32},{"b":54,"k":1218,"e":0},{"b":54,"k":1227,"e":-0.12},{"b":54,"k":1235,"e":-0.13},{"b":54,"k":1280,"e":-0.24},{"b":54,"k":1299,"e":-0.23},
{"b":55,"k":972,"e":-0.08},{"b":55,"k":977,"e":-0.08},{"b":55,"k":987,"e":-0.28},{"b":55,"k":1002,"e":-0.35},{"b":55,"k":1030,"e":-0.28},{"b":55,"k":1058,"e":-0.11},{"b":55,"k":1067,"e":0},{"b":55,"k":1077,"e":0.15},{"b":55,"k":1090,"e":0.2},{"b":55,"k":1103,"e":0.15},{"b":55,"k":1130,"e":-0.14},{"b":55,"k":1160,"e":-0.27},{"b":55,"k":1180,"e":-0.28},{"b":55,"k":1217,"e":-0.2},{"b":55,"k":1227,"e":-0.22},{"b":55,"k":1243,"e":-0.4},
{"b":56,"k":972,"e":-0.09},{"b":56,"k":975,"e":-0.08},{"b":56,"k":985,"e":-0.24},{"b":56,"k":993,"e":-0.4},{"b":56,"k":1002,"e":-0.58},{"b":56,"k":1007,"e":-0.6},{"b":56,"k":1017,"e":-0.51},{"b":56,"k":1037,"e":-0.4},{"b":56,"k":1055,"e":-0.32},{"b":56,"k":1077,"e":-0.42},{"b":56,"k":1107,"e":-0.37},{"b":56,"k":1137,"e":-0.2},{"b":56,"k":1167,"e":-0.33},{"b":56,"k":1220,"e":-0.27},{"b":56,"k":1243,"e":-0.42},{"b":56,"k":1253,"e":-0.5},{"b":56,"k":1267,"e":-0.57},{"b":56,"k":1299,"e":-0.42},
{"b":57,"k":972,"e":-0.52},{"b":57,"k":1000,"e":-0.38},{"b":57,"k":1010,"e":-0.5},{"b":57,"k":1017,"e":-0.52},{"b":57,"k":1037,"e":-0.38},{"b":57,"k":1055,"e":-0.32},
{"b":58,"k":972,"e":-0.52},{"b":58,"k":1002,"e":-0.65},{"b":58,"k":1040,"e":-0.75},{"b":58,"k":1058,"e":-0.76},{"b":58,"k":1108,"e":-0.94},{"b":58,"k":1137,"e":-0.91},{"b":58,"k":1163,"e":-0.78},{"b":58,"k":1200,"e":-0.73},{"b":58,"k":1240,"e":-0.64},{"b":58,"k":1263,"e":-0.64},{"b":58,"k":1283,"e":-0.7},{"b":58,"k":1299,"e":-0.71},
{"b":59,"k":972,"e":-0.55},{"b":59,"k":1002,"e":-0.68},{"b":59,"k":1040,"e":-0.75},{"b":59,"k":1058,"e":-0.76},{"b":59,"k":1100,"e":-0.89},{"b":59,"k":1137,"e":-0.89},{"b":59,"k":1163,"e":-0.73},{"b":59,"k":1200,"e":-0.73},{"b":59,"k":1247,"e":-0.63},{"b":59,"k":1270,"e":-0.7},{"b":59,"k":1299,"e":-0.71},
{"b":60,"k":972,"e":-1.06},{"b":60,"k":982,"e":-0.96},{"b":60,"k":1002,"e":-0.69},{"b":60,"k":1010,"e":-0.72},{"b":60,"k":1027,"e":-0.98},{"b":60,"k":1045,"e":-1.09},{"b":60,"k":1060,"e":-1.1},{"b":60,"k":1103,"e":-1.12},{"b":60,"k":1137,"e":-1.1},{"b":60,"k":1173,"e":-0.92},{"b":60,"k":1207,"e":-0.82},{"b":60,"k":1245,"e":-0.8},{"b":60,"k":1265,"e":-0.8},{"b":60,"k":1299,"e":-0.84},
{"b":61,"k":972,"e":-1.07},{"b":61,"k":998,"e":-1.3},{"b":61,"k":1018,"e":-1.37},{"b":61,"k":1053,"e":-1.35},{"b":61,"k":1097,"e":-1.28},{"b":61,"k":1137,"e":-1.19},{"b":61,"k":1160,"e":-1.09},{"b":61,"k":1193,"e":-0.87},{"b":61,"k":1255,"e":-0.85},{"b":61,"k":1278,"e":-0.92},{"b":61,"k":1299,"e":-0.84},
{"b":62,"k":972,"e":-2.14},{"b":62,"k":1015,"e":-2.02},{"b":62,"k":1052,"e":-1.87},{"b":62,"k":1100,"e":-1.79},{"b":62,"k":1147,"e":-1.76},{"b":62,"k":1233,"e":-1.79},{"b":62,"k":1250,"e":-1.64},{"b":62,"k":1263,"e":-1.4},{"b":62,"k":1280,"e":-1.28},{"b":62,"k":1299,"e":-1.34},
{"b":63,"k":972,"e":-2.14},{"b":63,"k":1002,"e":-2.17},{"b":63,"k":1015,"e":-2.15},{"b":63,"k":1047,"e":-2.04},{"b":63,"k":1080,"e":-2.0},{"b":63,"k":1127,"e":-1.86},{"b":63,"k":1200,"e":-1.79},{"b":63,"k":1243,"e":-1.77},{"b":63,"k":1253,"e":-1.62},{"b":63,"k":1267,"e":-1.4},{"b":63,"k":1280,"e":-1.32},{"b":63,"k":1299,"e":-1.34},
{"b":64,"k":972,"e":-2.39},{"b":64,"k":995,"e":-2.42},{"b":64,"k":1028,"e":-2.3},{"b":64,"k":1057,"e":-2.17},{"b":64,"k":1073,"e":-2.15},{"b":64,"k":1137,"e":-2.28},{"b":64,"k":1167,"e":-2.39},{"b":64,"k":1193,"e":-2.39},{"b":64,"k":1220,"e":-2.25},{"b":64,"k":1243,"e":-1.87},{"b":64,"k":1253,"e":-1.78},{"b":64,"k":1287,"e":-1.74},{"b":64,"k":1299,"e":-1.74},
{"b":65,"k":972,"e":-2.39},{"b":65,"k":1028,"e":-2.17},{"b":65,"k":1053,"e":-2.16},{"b":65,"k":1137,"e":-2.3},{"b":65,"k":1167,"e":-2.4},{"b":65,"k":1190,"e":-2.39},{"b":65,"k":1217,"e":-2.23},{"b":65,"k":1243,"e":-1.91},{"b":65,"k":1260,"e":-1.86},{"b":65,"k":1283,"e":-1.82},{"b":65,"k":1299,"e":-1.75},
{"b":66,"k":972,"e":-2.61},{"b":66,"k":997,"e":-2.52},{"b":66,"k":1018,"e":-2.54},{"b":66,"k":1047,"e":-2.4},{"b":66,"k":1060,"e":-2.4},{"b":66,"k":1100,"e":-2.56},{"b":66,"k":1130,"e":-2.65},{"b":66,"k":1167,"e":-2.6},{"b":66,"k":1203,"e":-2.47},{"b":66,"k":1243,"e":-2.3},{"b":66,"k":1273,"e":-2.21},{"b":66,"k":1299,"e":-2.2},
{"b":67,"k":972,"e":-2.62},{"b":67,"k":992,"e":-2.65},{"b":67,"k":1015,"e":-2.57},{"b":67,"k":1040,"e":-2.6},{"b":67,"k":1053,"e":-2.56},{"b":67,"k":1083,"e":-2.57},{"b":67,"k":1115,"e":-2.66},{"b":67,"k":1137,"e":-2.65},{"b":67,"k":1180,"e":-2.6},{"b":67,"k":1203,"e":-2.52},{"b":67,"k":1240,"e":-2.42},{"b":67,"k":1277,"e":-2.27},{"b":67,"k":1299,"e":-2.22},
{"b":68,"k":972,"e":-2.84},{"b":68,"k":990,"e":-2.9},{"b":68,"k":1013,"e":-2.87},{"b":68,"k":1055,"e":-2.86},{"b":68,"k":1103,"e":-2.91},{"b":68,"k":1137,"e":-2.84},{"b":68,"k":1193,"e":-2.77},{"b":68,"k":1223,"e":-2.65},{"b":68,"k":1260,"e":-2.58},{"b":68,"k":1299,"e":-2.54},
{"b":69,"k":972,"e":-2.83},{"b":69,"k":988,"e":-2.83},{"b":69,"k":1013,"e":-2.87},{"b":69,"k":1040,"e":-2.75},{"b":69,"k":1070,"e":-2.73},{"b":69,"k":1107,"e":-2.71},{"b":69,"k":1137,"e":-2.84},{"b":69,"k":1177,"e":-2.72},{"b":69,"k":1223,"e":-2.65},{"b":69,"k":1247,"e":-2.58},{"b":69,"k":1299,"e":-2.55},
{"b":70,"k":972,"e":-2.97},{"b":70,"k":988,"e":-2.94},{"b":70,"k":1027,"e":-2.98},{"b":70,"k":1053,"e":-2.95},{"b":70,"k":1073,"e":-2.96},{"b":70,"k":1123,"e":-3.11},{"b":70,"k":1150,"e":-3.12},{"b":70,"k":1173,"e":-3.15},{"b":70,"k":1210,"e":-3.04},{"b":70,"k":1233,"e":-2.89},{"b":70,"k":1283,"e":-2.79},{"b":70,"k":1299,"e":-2.77},
{"b":71,"k":972,"e":-2.98},{"b":71,"k":1000,"e":-3.06},{"b":71,"k":1050,"e":-3.21},{"b":71,"k":1110,"e":-3.22},{"b":71,"k":1150,"e":-3.25},{"b":71,"k":1183,"e":-3.22},{"b":71,"k":1210,"e":-3.04},{"b":71,"k":1233,"e":-2.97},{"b":71,"k":1282,"e":-2.8},{"b":71,"k":1299,"e":-2.78},
{"b":72,"k":972,"e":-3.48},{"b":72,"k":983,"e":-3.36},{"b":72,"k":997,"e":-3.21},{"b":72,"k":1017,"e":-3.12},{"b":72,"k":1047,"e":-3.19},{"b":72,"k":1053,"e":-3.24},{"b":72,"k":1087,"e":-3.35},{"b":72,"k":1117,"e":-3.39},{"b":72,"k":1190,"e":-3.53},{"b":72,"k":1237,"e":-3.44},{"b":72,"k":1293,"e":-3.12},{"b":72,"k":1299,"e":-3.12},
{"b":73,"k":972,"e":-3.48},{"b":73,"k":980,"e":-3.56},{"b":73,"k":1003,"e":-3.45},{"b":73,"k":1052,"e":-3.62},{"b":73,"k":1090,"e":-3.67},{"b":73,"k":1123,"e":-3.47},{"b":73,"k":1183,"e":-3.53},{"b":73,"k":1237,"e":-3.45},{"b":73,"k":1293,"e":-3.12},{"b":73,"k":1299,"e":-3.12},
{"b":74,"k":972,"e":-3.78},{"b":74,"k":980,"e":-3.67},{"b":74,"k":995,"e":-3.82},{"b":74,"k":1023,"e":-3.57},{"b":74,"k":1052,"e":-3.65},{"b":74,"k":1110,"e":-3.77},{"b":74,"k":1135,"e":-3.81},{"b":74,"k":1183,"e":-3.98},{"b":74,"k":1217,"e":-3.87},{"b":74,"k":1250,"e":-3.6},{"b":74,"k":1270,"e":-3.41},{"b":74,"k":1293,"e":-3.35},{"b":74,"k":1299,"e":-3.35},
{"b":75,"k":972,"e":-3.79},{"b":75,"k":985,"e":-3.96},{"b":75,"k":993,"e":-3.9},{"b":75,"k":1013,"e":-4.25},{"b":75,"k":1032,"e":-4.49},{"b":75,"k":1053,"e":-4.25},{"b":75,"k":1087,"e":-3.89},{"b":75,"k":1107,"e":-3.81},{"b":75,"k":1133,"e":-3.84},{"b":75,"k":1183,"e":-4.06},{"b":75,"k":1217,"e":-3.94},{"b":75,"k":1247,"e":-3.72},{"b":75,"k":1270,"e":-3.43},{"b":75,"k":1293,"e":-3.35},{"b":75,"k":1299,"e":-3.35},
{"b":76,"k":972,"e":-4.25},{"b":76,"k":983,"e":-4.14},{"b":76,"k":993,"e":-4.25},{"b":76,"k":1013,"e":-4.58},{"b":76,"k":1032,"e":-4.52},{"b":76,"k":1053,"e":-4.58},{"b":76,"k":1070,"e":-4.78},{"b":76,"k":1090,"e":-4.98},{"b":76,"k":1110,"e":-4.76},{"b":76,"k":1133,"e":-4.43},{"b":76,"k":1177,"e":-4.93},{"b":76,"k":1203,"e":-4.77},{"b":76,"k":1237,"e":-4.72},{"b":76,"k":1270,"e":-4.63},{"b":76,"k":1299,"e":-4.59},
{"b":77,"k":972,"e":-4.25},{"b":77,"k":990,"e":-4.45},{"b":77,"k":1013,"e":-4.59},{"b":77,"k":1040,"e":-4.6},{"b":77,"k":1053,"e":-4.58},{"b":77,"k":1065,"e":-4.35},{"b":77,"k":1097,"e":-4.11},{"b":77,"k":1107,"e":-4.1},{"b":77,"k":1120,"e":-4.19},{"b":77,"k":1133,"e":-4.42},{"b":77,"k":1173,"e":-4.91},{"b":77,"k":1200,"e":-4.79},{"b":77,"k":1243,"e":-4.74},{"b":77,"k":1299,"e":-4.59},
{"b":78,"k":972,"e":-4.91},{"b":78,"k":992,"e":-4.86},{"b":78,"k":1017,"e":-4.74},{"b":78,"k":1043,"e":-4.64},{"b":78,"k":1057,"e":-4.68},{"b":78,"k":1082,"e":-5.0},
{"b":79,"k":965,"e":-5.0},{"b":79,"k":972,"e":-4.91},{"b":79,"k":993,"e":-4.93},{"b":79,"k":1010,"e":-4.91},{"b":79,"k":1025,"e":-5.0},
{"b":80,"k":1234,"e":-5.0},{"b":80,"k":1260,"e":-4.81},{"b":80,"k":1299,"e":-4.79},
{"b":81,"k":1243,"e":-5.0},{"b":81,"k":1267,"e":-4.82},{"b":81,"k":1299,"e":-4.79},
{"b":82,"k":1273,"e":2.0},{"b":82,"k":1299,"e":1.98},
{"b":90,"k":1332,"e":2.0},{"b":90,"k":1350,"e":1.67},{"b":90,"k":1373,"e":1.28},{"b":90,"k":1407,"e":0.9},{"b":90,"k":1433,"e":0.65},{"b":90,"k":1447,"e":0.57},{"b":90,"k":1457,"e":0.54},
{"b":91,"k":1357,"e":2.0},{"b":91,"k":1370,"e":1.7},{"b":91,"k":1387,"e":1.47},{"b":91,"k":1407,"e":1.36},{"b":91,"k":1433,"e":1.15},{"b":91,"k":1447,"e":1.07},{"b":91,"k":1457,"e":1.04},
{"b":92,"k":1299,"e":1.29},{"b":92,"k":1327,"e":1.26},{"b":92,"k":1357,"e":1.16},{"b":92,"k":1373,"e":1.05},{"b":92,"k":1397,"e":0.61},{"b":92,"k":1417,"e":0.27},{"b":92,"k":1440,"e":-0.02},{"b":92,"k":1457,"e":-0.1},
{"b":93,"k":1299,"e":0.61},{"b":93,"k":1320,"e":0.64},{"b":93,"k":1350,"e":0.72},{"b":93,"k":1370,"e":0.64},{"b":93,"k":1390,"e":0.41},{"b":93,"k":1410,"e":0.2},{"b":93,"k":1427,"e":-0.07},{"b":93,"k":1433,"e":-0.18},{"b":93,"k":1457,"e":-0.2},
{"b":94,"k":1299,"e":0.18},{"b":94,"k":1310,"e":0.17},{"b":94,"k":1330,"e":0.08},{"b":94,"k":1350,"e":-0.05},{"b":94,"k":1370,"e":0.03},{"b":94,"k":1393,"e":0.15},{"b":94,"k":1403,"e":0.1},{"b":94,"k":1417,"e":-0.13},{"b":94,"k":1430,"e":-0.19},{"b":94,"k":1443,"e":-0.32},{"b":94,"k":1457,"e":-0.34},
{"b":95,"k":1299,"e":-0.12},{"b":95,"k":1343,"e":-0.09},{"b":95,"k":1370,"e":-0.22},{"b":95,"k":1390,"e":-0.24},{"b":95,"k":1410,"e":-0.22},{"b":95,"k":1433,"e":-0.29},{"b":95,"k":1457,"e":-0.41},
{"b":96,"k":1299,"e":-0.25},{"b":96,"k":1350,"e":-0.24},{"b":96,"k":1373,"e":-0.32},{"b":96,"k":1403,"e":-0.3},{"b":96,"k":1420,"e":-0.33},{"b":96,"k":1430,"e":-0.5},{"b":96,"k":1440,"e":-0.68},{"b":96,"k":1457,"e":-0.69},
{"b":97,"k":1299,"e":-0.59},{"b":97,"k":1367,"e":-0.41},{"b":97,"k":1393,"e":-0.55},{"b":97,"k":1430,"e":-0.67},{"b":97,"k":1457,"e":-0.79},
{"b":98,"k":1299,"e":-0.71},{"b":98,"k":1337,"e":-0.72},{"b":98,"k":1380,"e":-0.67},{"b":98,"k":1407,"e":-0.71},{"b":98,"k":1430,"e":-0.74},{"b":98,"k":1443,"e":-0.83},{"b":98,"k":1457,"e":-0.92},
{"b":99,"k":1299,"e":-0.8},{"b":99,"k":1393,"e":-0.76},{"b":99,"k":1417,"e":-0.89},{"b":99,"k":1443,"e":-1.13},{"b":99,"k":1457,"e":-1.07},
{"b":100,"k":1299,"e":-1.14},{"b":100,"k":1370,"e":-1.04},{"b":100,"k":1400,"e":-1.1},{"b":100,"k":1428,"e":-1.25},{"b":100,"k":1443,"e":-1.18},{"b":100,"k":1457,"e":-1.25},
{"b":101,"k":1299,"e":-1.57},{"b":101,"k":1360,"e":-1.6},{"b":101,"k":1393,"e":-1.58},{"b":101,"k":1427,"e":-1.35},{"b":101,"k":1457,"e":-1.25},
{"b":102,"k":1299,"e":-2.2},{"b":102,"k":1330,"e":-2.12},{"b":102,"k":1387,"e":-1.79},{"b":102,"k":1433,"e":-1.4},{"b":102,"k":1443,"e":-1.42},{"b":102,"k":1453,"e":-1.35},{"b":102,"k":1457,"e":-1.35},
{"b":103,"k":1299,"e":-2.38},{"b":103,"k":1313,"e":-2.42},{"b":103,"k":1330,"e":-2.38},{"b":103,"k":1363,"e":-2.22},{"b":103,"k":1397,"e":-2.08},{"b":103,"k":1417,"e":-1.96},{"b":103,"k":1430,"e":-1.73},{"b":103,"k":1443,"e":-1.49},{"b":103,"k":1457,"e":-1.52},
{"b":104,"k":1299,"e":-2.39},{"b":104,"k":1330,"e":-2.23},{"b":104,"k":1370,"e":-1.93},{"b":104,"k":1397,"e":-1.75},{"b":104,"k":1423,"e":-1.69},{"b":104,"k":1437,"e":-1.72},{"b":104,"k":1450,"e":-1.53},{"b":104,"k":1457,"e":-1.51},
{"b":105,"k":1299,"e":-2.67},{"b":105,"k":1330,"e":-2.49},{"b":105,"k":1360,"e":-2.25},{"b":105,"k":1397,"e":-2.13},{"b":105,"k":1427,"e":-1.81},{"b":105,"k":1438,"e":-1.76},{"b":105,"k":1457,"e":-1.76},
{"b":106,"k":1299,"e":-2.67},{"b":106,"k":1313,"e":-2.72},{"b":106,"k":1350,"e":-2.62},{"b":106,"k":1390,"e":-2.27},{"b":106,"k":1417,"e":-1.91},{"b":106,"k":1440,"e":-1.62},{"b":106,"k":1457,"e":-1.56},
{"b":107,"k":1299,"e":-2.81},{"b":107,"k":1327,"e":-2.81},{"b":107,"k":1360,"e":-2.6},{"b":107,"k":1393,"e":-2.4},{"b":107,"k":1427,"e":-2.4},{"b":107,"k":1452,"e":-2.22},{"b":107,"k":1457,"e":-2.21},
{"b":108,"k":1299,"e":-3.0},{"b":108,"k":1318,"e":-2.95},{"b":108,"k":1345,"e":-2.83},{"b":108,"k":1407,"e":-2.65},{"b":108,"k":1430,"e":-2.5},{"b":108,"k":1457,"e":-2.5},
{"b":109,"k":1299,"e":-3.05},{"b":109,"k":1318,"e":-3.07},{"b":109,"k":1348,"e":-2.95},{"b":109,"k":1395,"e":-2.78},{"b":109,"k":1437,"e":-2.64},{"b":109,"k":1457,"e":-2.66},
{"b":110,"k":1299,"e":-3.22},{"b":110,"k":1317,"e":-3.22},{"b":110,"k":1343,"e":-3.29},{"b":110,"k":1367,"e":-3.2},{"b":110,"k":1393,"e":-2.92},{"b":110,"k":1417,"e":-2.75},{"b":110,"k":1427,"e":-2.75},{"b":110,"k":1457,"e":-2.66},
{"b":114,"k":1299,"e":-3.36},{"b":114,"k":1343,"e":-3.42},{"b":114,"k":1370,"e":-3.37},{"b":114,"k":1393,"e":-3.21},{"b":114,"k":1417,"e":-3.06},{"b":114,"k":1447,"e":-3.05},{"b":114,"k":1457,"e":-3.05},
{"b":115,"k":1299,"e":-3.85},{"b":115,"k":1340,"e":-3.73},{"b":115,"k":1370,"e":-3.51},{"b":115,"k":1423,"e":-3.37},{"b":115,"k":1449,"e":-3.39},{"b":115,"k":1457,"e":-3.39},
{"b":116,"k":1299,"e":-3.92},{"b":116,"k":1360,"e":-3.96},{"b":116,"k":1393,"e":-3.69},{"b":116,"k":1427,"e":-3.45},{"b":116,"k":1457,"e":-3.42},
{"b":117,"k":1299,"e":-4.13},{"b":117,"k":1343,"e":-4.01},{"b":117,"k":1373,"e":-4.1},{"b":117,"k":1397,"e":-4.19},{"b":117,"k":1413,"e":-4.13},{"b":117,"k":1433,"e":-3.87},{"b":117,"k":1457,"e":-3.8},
{"b":118,"k":1299,"e":-4.29},{"b":118,"k":1307,"e":-4.31},{"b":118,"k":1337,"e":-4.46},{"b":118,"k":1377,"e":-4.25},{"b":118,"k":1407,"e":-4.32},{"b":118,"k":1423,"e":-4.32},{"b":118,"k":1457,"e":-4.33},
{"b":119,"k":1299,"e":-4.81},{"b":119,"k":1307,"e":-4.8},{"b":119,"k":1337,"e":-4.57},{"b":119,"k":1373,"e":-4.67},{"b":119,"k":1390,"e":-4.64},{"b":119,"k":1413,"e":-4.39},{"b":119,"k":1457,"e":-4.39},
{"b":120,"k":1313,"e":-5.0},{"b":120,"k":1333,"e":-4.85},{"b":120,"k":1373,"e":-4.8},{"b":120,"k":1417,"e":-4.65},{"b":120,"k":1457,"e":-4.64},
{"b":200,"k":972,"e":1.65},{"b":200,"k":972,"e":0.05},{"b":201,"k":972,"e":-0.07},{"b":201,"k":972,"e":-0.25},{"b":202,"k":972,"e":-1.06},{"b":202,"k":972,"e":-1.27},{"b":203,"k":972,"e":-2.14},{"b":203,"k":972,"e":-2.32},{"b":204,"k":972,"e":-2.39},{"b":204,"k":972,"e":-2.45},{"b":205,"k":972,"e":-2.61},{"b":205,"k":972,"e":-2.68},{"b":206,"k":972,"e":-2.97},{"b":206,"k":972,"e":-3.03},{"b":207,"k":972,"e":-3.12},{"b":207,"k":972,"e":-3.78},{"b":208,"k":972,"e":-4.25},{"b":208,"k":972,"e":-4.44},{"b":209,"k":972,"e":-4.91},{"b":209,"k":972,"e":-5},{"b":210,"k":972,"e":-0.52},{"b":210,"k":972,"e":-0.56},
{"b":211,"k":1299,"e":2},{"b":211,"k":1299,"e":-0.42},{"b":212,"k":1299,"e":-0.6},{"b":212,"k":1299,"e":-0.72},{"b":213,"k":1299,"e":-0.79},{"b":213,"k":1299,"e":-1.14},{"b":214,"k":1299,"e":-1.35},{"b":214,"k":1299,"e":-4.13},{"b":215,"k":1299,"e":-4.29},{"b":215,"k":1299,"e":-5}
]},
"layer":[
{"mark":{"type":"line","stroke":"#000","strokeWidth":2,"interpolate":"monotone","clip":true},
"encoding":{"detail":{"field":"b","type":"nominal"},
"x":{"field":"k","type":"quantitative","scale":{"domain":[63,1457],"nice":false,"zero":false},
"axis":{"orient":"bottom","values":[209,289,434,514,699,866,972,1054,1136,1299],"labels":false,"title":null,"domain":false,"grid":true,"gridDash":[3,3],"gridColor":"#999","gridWidth":1,"ticks":false}},
"y":{"field":"e","type":"quantitative","scale":{"domain":[-5,2],"nice":false,"zero":false},
"axis":{"orient":"left","values":[2,1,0,-1,-2,-3,-4,-5],"labelExpr":"toString(datum.value)","title":null,"domain":false,"grid":false,"ticks":false,"labelFont":"Liberation Sans","labelFontSize":23,"labelColor":"#111","labelPadding":17}}}},
{"data":{"values":[{"e":0}]},"mark":{"type":"rule","stroke":"#56b4e9","strokeWidth":2},"encoding":{"y":{"field":"e","type":"quantitative"}}},
{"data":{"values":[{"k":209,"e":-5,"e2":-4.93},{"k":289,"e":-5,"e2":-4.93},{"k":434,"e":-5,"e2":-4.93},{"k":514,"e":-5,"e2":-4.93},{"k":699,"e":-5,"e2":-4.93},{"k":866,"e":-5,"e2":-4.93},{"k":972,"e":-5,"e2":-4.93},{"k":1054,"e":-5,"e2":-4.93},{"k":1136,"e":-5,"e2":-4.93},{"k":1299,"e":-5,"e2":-4.93},{"k":209,"e":2,"e2":1.93},{"k":289,"e":2,"e2":1.93},{"k":434,"e":2,"e2":1.93},{"k":514,"e":2,"e2":1.93},{"k":699,"e":2,"e2":1.93},{"k":866,"e":2,"e2":1.93},{"k":972,"e":2,"e2":1.93},{"k":1054,"e":2,"e2":1.93},{"k":1136,"e":2,"e2":1.93},{"k":1299,"e":2,"e2":1.93}]},
"mark":{"type":"rule","stroke":"#000","strokeWidth":2},"encoding":{"x":{"field":"k","type":"quantitative"},"y":{"field":"e","type":"quantitative"},"y2":{"field":"e2"}}},
{"data":{"values":[{"k":63,"k2":73,"e":1},{"k":63,"k2":73,"e":0},{"k":63,"k2":73,"e":-1},{"k":63,"k2":73,"e":-2},{"k":63,"k2":73,"e":-3},{"k":63,"k2":73,"e":-4},{"k":1447,"k2":1457,"e":1},{"k":1447,"k2":1457,"e":0},{"k":1447,"k2":1457,"e":-1},{"k":1447,"k2":1457,"e":-2},{"k":1447,"k2":1457,"e":-3},{"k":1447,"k2":1457,"e":-4}]},
"mark":{"type":"rule","stroke":"#000","strokeWidth":2},"encoding":{"x":{"field":"k","type":"quantitative"},"x2":{"field":"k2"},"y":{"field":"e","type":"quantitative"}}},
{"data":{"values":[{"t":"Γ","k":61,"e":-5},{"t":"Y","k":207,"e":-5},{"t":"T","k":287,"e":-5},{"t":"Z","k":433,"e":-5},{"t":"Γ","k":514,"e":-5},{"t":"X","k":698,"e":-5},{"t":"A","k":858,"e":-5},{"t":"Y","k":957,"e":-5},{"t":"T","k":987,"e":-5},{"t":"X","k":1032,"e":-5},{"t":"X","k":1068,"e":-5},{"t":"A","k":1135,"e":-5},{"t":"Z","k":1284,"e":-5},{"t":"L","k":1314,"e":-5},{"t":"Γ","k":1456,"e":-5}]},
"mark":{"type":"text","font":"Liberation Sans","fontSize":23,"color":"#111","dy":27,"clip":false},
"encoding":{"x":{"field":"k","type":"quantitative"},"y":{"field":"e","type":"quantitative"},"text":{"field":"t"}}},
{"data":{"values":[{"t":"1","k":875,"e":-5},{"t":"1","k":1047,"e":-5}]},
"mark":{"type":"text","font":"Liberation Sans","fontSize":23,"color":"#111","dy":35,"clip":false},
"encoding":{"x":{"field":"k","type":"quantitative"},"y":{"field":"e","type":"quantitative"},"text":{"field":"t"}}}
]}
